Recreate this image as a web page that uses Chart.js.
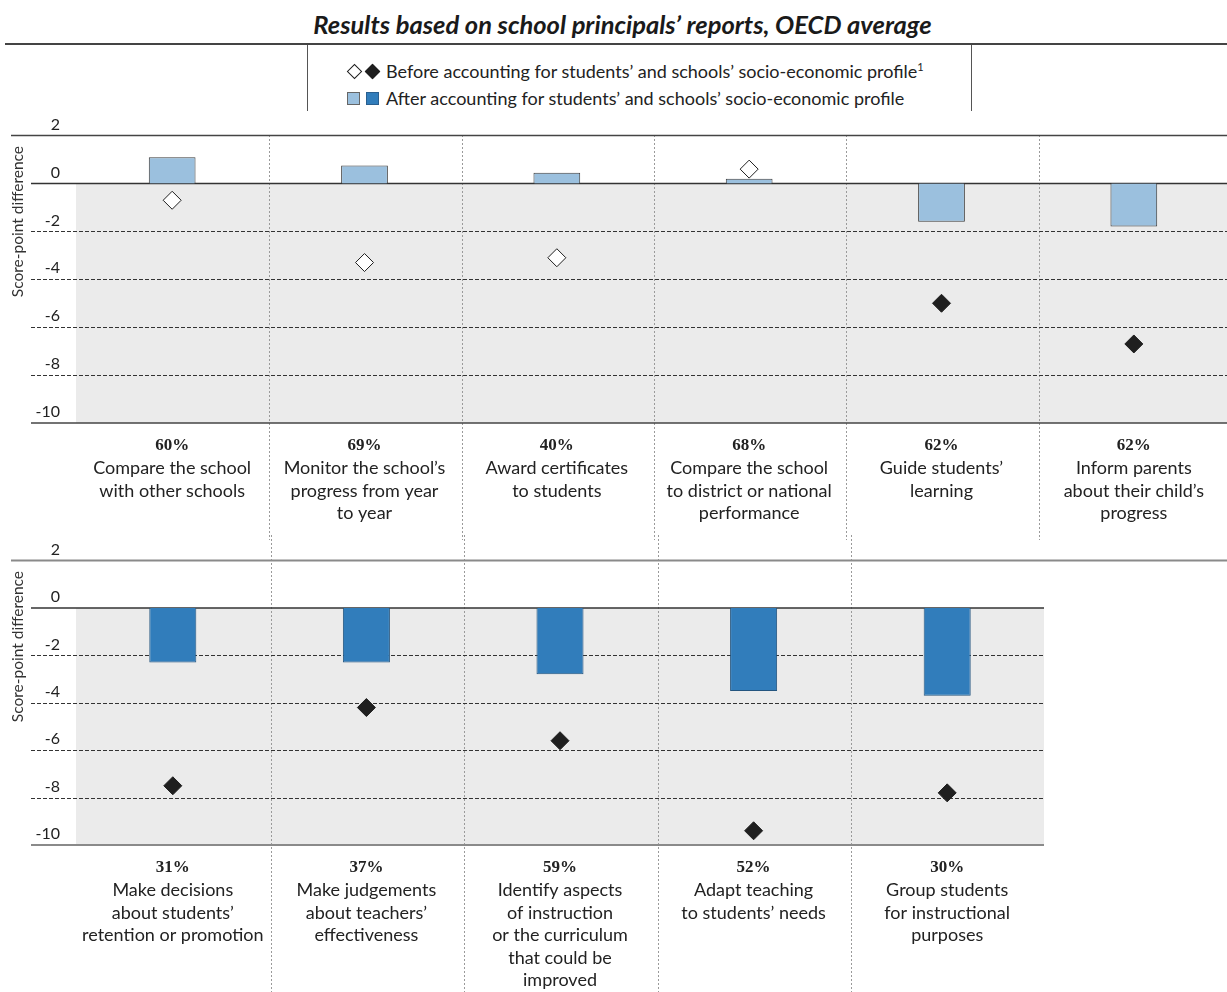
<!DOCTYPE html>
<html>
<head>
<meta charset="utf-8">
<script src="https://cdn.jsdelivr.net/npm/chart.js@4.4.1/dist/chart.umd.min.js"></script>
<style>
  html, body { margin:0; padding:0; overflow:hidden; background:#fff; width:1227px; height:992px; }
  body { position:relative; font-family: Lato, "Open Sans", sans-serif; color:#222; }
  #title { position:absolute; left:0; width:1245px; top:8px; text-align:center; font: italic bold 25.5px Lato, sans-serif; line-height:32px; color:#1a1a1a; }
  .rule { position:absolute; background:#444; }
  .vrule { position:absolute; background:#555; width:1px; }
  .legrow { position:absolute; left:346px; height:24px; line-height:24px; font-size:18px; color:#222; white-space:nowrap; }
  .legrow .sym { display:inline-block; width:40px; height:24px; position:relative; vertical-align:top; }
  .dia { position:absolute; top:7px; width:9px; height:9px; transform:rotate(45deg); border:1px solid #1f1f1f; }
  .sq { position:absolute; top:6px; width:11px; height:11px; border:1px solid #666; }
  sup { font-size:11px; vertical-align:7px; line-height:0; }
  canvas { position:absolute; left:0; }
</style>
</head>
<body>
<div id="title">Results based on school principals’ reports, OECD average</div>
<div class="rule" style="left:5px; top:43px; width:1222px; height:2px;"></div>
<div class="vrule" style="left:307px; top:45px; height:66px;"></div>
<div class="vrule" style="left:971px; top:45px; height:66px;"></div>
<div class="legrow" style="top:59px;"><span class="sym"><span class="dia" style="left:3px;background:#fff"></span><span class="dia" style="left:21px;background:#1f1f1f"></span></span>Before accounting for students’ and schools’ socio-economic profile<sup>1</sup></div>
<div class="legrow" style="top:86px;"><span class="sym"><span class="sq" style="left:1px;background:#9bc0de"></span><span class="sq" style="left:20px;background:#317dbb;border-color:#2a5f8f"></span></span>After accounting for students’ and schools’ socio-economic profile</div>

<canvas id="c1" width="1240" height="430" style="top:110px;"></canvas>
<canvas id="c2" width="1240" height="457" style="top:535px;"></canvas>

<script>
// ---------- DATA ----------
const topCategories = [
  ["Compare the school", "with other schools"],
  ["Monitor the school’s", "progress from year", "to year"],
  ["Award certificates", "to students"],
  ["Compare the school", "to district or national", "performance"],
  ["Guide students’", "learning"],
  ["Inform parents", "about their child’s", "progress"]
];
const topShares = ["60%", "69%", "40%", "68%", "62%", "62%"];
const topAfter  = [1.1, 0.75, 0.45, 0.2, -1.6, -1.8];
const topBefore = [-0.7, -3.3, -3.1, 0.6, -5.0, -6.7];
const topBeforeSignificant = [false, false, false, false, true, true];
const topAfterSignificant  = [false, false, false, false, false, false];

const bottomCategories = [
  ["Make decisions", "about students’", "retention or promotion"],
  ["Make judgements", "about teachers’", "effectiveness"],
  ["Identify aspects", "of instruction", "or the curriculum", "that could be", "improved"],
  ["Adapt teaching", "to students’ needs"],
  ["Group students", "for instructional", "purposes"]
];
const bottomShares = ["31%", "37%", "59%", "52%", "30%"];
const bottomAfter  = [-2.3, -2.3, -2.8, -3.5, -3.7];
const bottomBefore = [-7.5, -4.2, -5.6, -9.4, -7.8];
const bottomBeforeSignificant = [true, true, true, true, true];
const bottomAfterSignificant  = [true, true, true, true, true];

const yTicks = [2, 0, -2, -4, -6, -8, -10];
const yMin = -10, yMax = 2;
const yTitle = "Score-point difference";

// ---------- STYLE ----------
const LIGHT = '#9bc0de', DARK = '#317dbb';
const TEXT = '#222';

const panelPlugin = {
  id: 'panel',
  beforeDatasetsDraw(chart, args, o) {
    const { ctx, chartArea: a, scales: { x, y } } = chart;
    const W = chart.width;
    const line = (x1, y1, x2, y2) => { ctx.beginPath(); ctx.moveTo(x1, y1); ctx.lineTo(x2, y2); ctx.stroke(); };
    ctx.save();
    const y0 = y.getPixelForValue(0), yb = y.getPixelForValue(yMin);
    ctx.fillStyle = '#ebebeb';
    ctx.fillRect(a.left, y0, a.right - a.left, yb - y0);
    const half = (x.getPixelForValue(1) - x.getPixelForValue(0)) / 2;
    ctx.strokeStyle = '#9a9a9a'; ctx.lineWidth = 1; ctx.setLineDash([2, 2]);
    const n = chart.data.labels.length;
    for (let i = 0; i < n - 1; i++) {
      const px = Math.round(x.getPixelForValue(i) + half) + 1.5;
      line(px, o.sepTop, px, a.bottom + o.sepExtend);
    }
    ctx.strokeStyle = '#333'; ctx.setLineDash([4, 2]);
    yTicks.forEach(v => {
      if (v < 0 && v > yMin) {
        const py = Math.round(y.getPixelForValue(v)) + 0.5;
        line(31, py, a.right, py);
      }
    });
    ctx.setLineDash([]);
    ctx.strokeStyle = o.frameColor; ctx.lineWidth = o.frameWidth;
    const yt = y.getPixelForValue(yMax);
    line(11, yt, W, yt);
    line(31, yb, a.right, yb);
    ctx.strokeStyle = '#333'; ctx.lineWidth = 1.5;
    line(31, y0, a.right, y0);
    ctx.restore();
  },
  afterDraw(chart, args, o) {
    const { ctx, chartArea: a, scales: { x } } = chart;
    ctx.save();
    ctx.fillStyle = TEXT; ctx.textAlign = 'center'; ctx.textBaseline = 'middle';
    chart.data.labels.forEach((lines, i) => {
      const cx = x.getPixelForValue(i);
      let yy = a.bottom + 23;
      ctx.font = 'bold 17px "Liberation Serif"';
      ctx.fillText(o.shares[i], cx, yy);
      ctx.font = '18px Lato';
      lines.forEach(t => { yy += 22.5; ctx.fillText(t, cx, yy); });
    });
    ctx.translate(18, a.top + 86);
    ctx.rotate(-Math.PI / 2);
    ctx.font = '15.5px Lato'; ctx.fillStyle = '#333';
    ctx.fillText(yTitle, 0, 0);
    ctx.restore();
  }
};

function makePanel(id, cats, shares, after, before, afterSig, beforeSig, opt) {
  return new Chart(document.getElementById(id), {
    data: {
      labels: cats,
      datasets: [
        {
          type: 'line', label: 'Before accounting', data: before, order: 0,
          showLine: false, pointStyle: 'rectRot', pointRadius: 9, pointHoverRadius: 9,
          pointBorderWidth: 1, pointBorderColor: '#1f1f1f',
          pointBackgroundColor: beforeSig.map(s => s ? '#1f1f1f' : '#ffffff')
        },
        {
          type: 'bar', label: 'After accounting', data: after, order: 1,
          backgroundColor: afterSig.map(s => s ? DARK : LIGHT),
          borderColor: afterSig.map(s => s ? '#24557f' : '#3b3b3b'),
          borderWidth: 1, categoryPercentage: 1, barPercentage: 0.243
        }
      ]
    },
    options: {
      responsive: false, animation: false, devicePixelRatio: 1,
      layout: { padding: opt.padding },
      plugins: { legend: { display: false }, tooltip: { enabled: false },
        panel: { shares, frameColor: opt.frameColor, frameWidth: opt.frameWidth, sepTop: opt.sepTop, sepExtend: opt.sepExtend } },
      scales: {
        x: { type: 'category', display: false, offset: true },
        y: {
          min: yMin, max: yMax,
          afterFit: s => { s.width = 76; },
          afterBuildTicks: s => { s.ticks = yTicks.map(v => ({ value: v })); },
          grid: { display: false, drawTicks: false },
          border: { display: false },
          ticks: { color: TEXT, font: { family: 'Lato', size: 16 }, padding: 16, labelOffset: -11, crossAlign: 'near',
            callback: v => String(v) }
        }
      }
    },
    plugins: [panelPlugin]
  });
}

makePanel('c1', topCategories, topShares, topAfter, topBefore, topAfterSignificant, topBeforeSignificant,
  { padding: { left: 0, right: 2, top: 25, bottom: 117 }, frameColor: '#444', frameWidth: 1.5, sepTop: 25, sepExtend: 117 });
makePanel('c2', bottomCategories, bottomShares, bottomAfter, bottomBefore, bottomAfterSignificant, bottomBeforeSignificant,
  { padding: { left: 0, right: 196, top: 24, bottom: 147 }, frameColor: '#8a8a8a', frameWidth: 2, sepTop: 0, sepExtend: 147 });
</script>
</body>
</html>
